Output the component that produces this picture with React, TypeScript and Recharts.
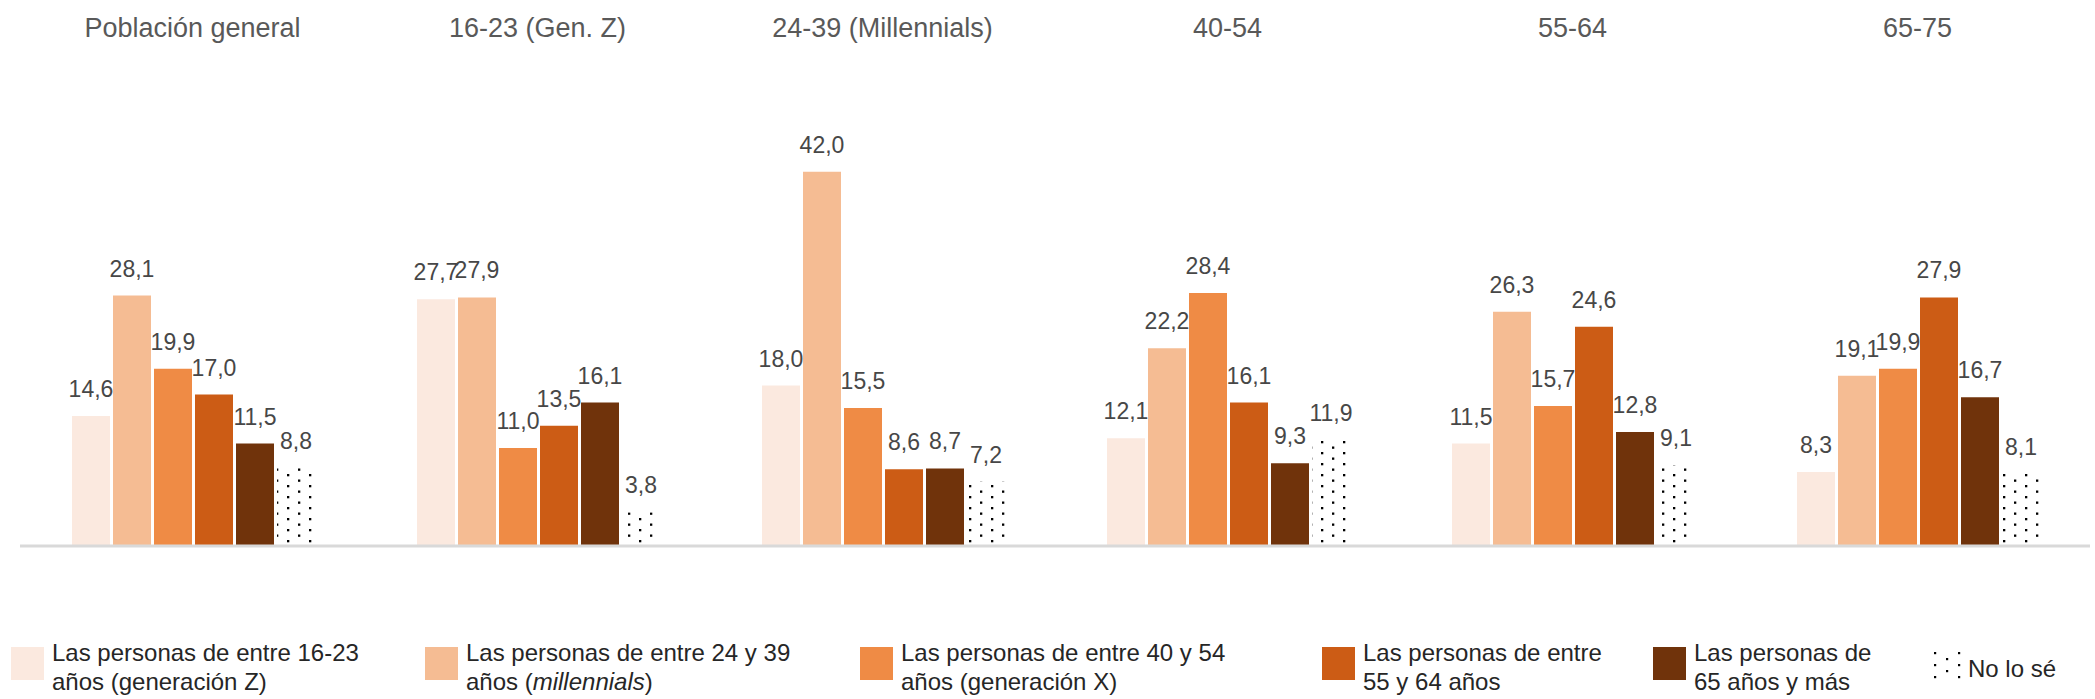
import React from 'react';
import { BarChart, Bar, XAxis, YAxis, LabelList, Legend } from 'recharts';

const categories = ['Población general', '16-23 (Gen. Z)', '24-39 (Millennials)', '40-54', '55-64', '65-75'];

const gen1623 = [14.6, 27.7, 18.0, 12.1, 11.5, 8.3];
const gen2439 = [28.1, 27.9, 42.0, 22.2, 26.3, 19.1];
const gen4054 = [19.9, 11.0, 15.5, 28.4, 15.7, 19.9];
const gen5564 = [17.0, 13.5, 8.6, 16.1, 24.6, 27.9];
const gen65 = [11.5, 16.1, 8.7, 9.3, 12.8, 16.7];
const noLoSe = [8.8, 3.8, 7.2, 11.9, 9.1, 8.1];

const seriesKeys = ['g1', 'g2', 'g3', 'g4', 'g5', 'g6'];
const seriesColors = ['#FBE9DF', '#F5BC93', '#EF8B45', '#CC5C15', '#70330B', 'url(#dotsPattern)'];

const legendLine1 = [
  'Las personas de entre 16-23',
  'Las personas de entre 24 y 39',
  'Las personas de entre 40 y 54',
  'Las personas de entre',
  'Las personas de',
  'No lo sé',
];
const legendLine2 = ['años (generación Z)', 'años (millennials)', 'años (generación X)', '55 y 64 años', '65 años y más', ''];

const data = categories.map((name, i) => ({
  name,
  g1: gen1623[i],
  g2: gen2439[i],
  g3: gen4054[i],
  g4: gen5564[i],
  g5: gen65[i],
  g6: noLoSe[i],
}));

// legend layout (left edge of each swatch)
const LEGEND_LEFT = [11, 425, 860, 1322, 1653, 1933];
const FONT = '"Liberation Sans", Arial, sans-serif';

const fmt = (v: any) => Number(v).toFixed(1).replace('.', ',');

const CategoryTick = ({ x, payload }: any) => (
  <text x={x} y={37} textAnchor="middle" fill="#595959" fontSize={27} fontFamily={FONT}>
    {payload.value}
  </text>
);

const renderLine2 = (text: string) => {
  if (text === 'años (millennials)') {
    return (
      <>
        años (<i>millennials</i>)
      </>
    );
  }
  return text;
};

const CustomLegend = () => (
  <div style={{ position: 'relative', width: 2095, height: 59, fontFamily: FONT, color: '#262626' }}>
    {legendLine1.map((line, i) => {
      const left = LEGEND_LEFT[i];
      if (i === 5) {
        return (
          <div key={i}>
            <svg style={{ position: 'absolute', left, top: 10 }} width={28} height={29}>
              <rect x={0} y={0} width={28} height={29} fill="url(#dotsLegend)" />
            </svg>
            <div style={{ position: 'absolute', left: left + 35, top: 14, fontSize: 24, lineHeight: '29px', whiteSpace: 'nowrap' }}>
              {line}
            </div>
          </div>
        );
      }
      return (
        <div key={i}>
          <div
            style={{
              position: 'absolute',
              left,
              top: 7,
              width: 33,
              height: 33,
              background: seriesColors[i],
            }}
          />
          <div
            style={{
              position: 'absolute',
              left: left + 41,
              top: -2,
              fontSize: 24,
              lineHeight: '29px',
              whiteSpace: 'nowrap',
            }}
          >
            <div>{line}</div>
            <div>{renderLine2(legendLine2[i])}</div>
          </div>
        </div>
      );
    })}
  </div>
);

export default function App() {
  return (
    <div style={{ position: 'absolute', left: 0, top: 0, width: 2095, height: 699, background: '#fff', overflow: 'hidden' }}>
      <svg width={0} height={0} style={{ position: 'absolute' }}>
        <defs>
          <pattern id="dotsLegend" width={24} height={12} patternUnits="userSpaceOnUse">
            <rect x={1} y={2} width={2.2} height={2.2} fill="#000" />
            <rect x={13} y={8} width={2.2} height={2.2} fill="#000" />
          </pattern>
        </defs>
      </svg>
      <BarChart
        width={2095}
        height={699}
        data={data}
        margin={{ top: 20, right: 5, left: 20, bottom: 152 }}
        barCategoryGap={52}
        barGap={3}
      >
        <defs>
          <pattern id="dotsPattern" width={22} height={11} patternUnits="userSpaceOnUse">
            <rect x={0} y={0} width={22} height={11} fill="#fff" />
            <rect x={1} y={1} width={2.3} height={2.3} fill="#000" />
            <rect x={12} y={6.5} width={2.3} height={2.3} fill="#000" />
          </pattern>
        </defs>
        <XAxis
          xAxisId="top"
          dataKey="name"
          orientation="top"
          height={125}
          axisLine={false}
          tickLine={false}
          tick={<CategoryTick />}
          interval={0}
        />
        <XAxis
          dataKey="name"
          height={1}
          tick={false}
          tickLine={false}
          axisLine={{ stroke: '#d9d9d9', strokeWidth: 3 }}
        />
        <YAxis hide domain={[0, 45]} />
        {seriesKeys.map((key, i) => (
          <Bar key={key} dataKey={key} fill={seriesColors[i]} isAnimationActive={false}>
            <LabelList
              dataKey={key}
              position="top"
              offset={19}
              formatter={fmt}
              fill="#474747"
              fontSize={23}
              fontFamily={FONT}
            />
          </Bar>
        ))}
        <Legend
          layout="horizontal"
          verticalAlign="middle"
          align="center"
          wrapperStyle={{ top: 640, left: 0, width: 2095, height: 59 }}
          content={<CustomLegend />}
        />
      </BarChart>
    </div>
  );
}
